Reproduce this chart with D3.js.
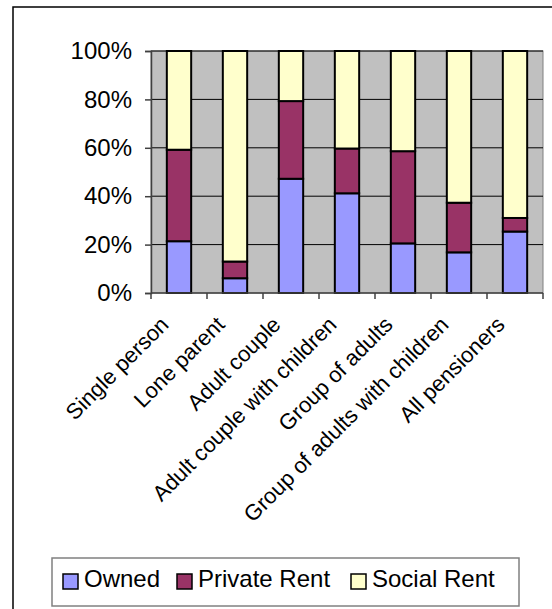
<!DOCTYPE html>
<html>
<head>
<meta charset="utf-8">
<script src="https://cdn.jsdelivr.net/npm/d3@7"></script>
<style>
  body { margin: 0; background: #fff; }
  text { font-family: "Liberation Sans", Arial, sans-serif; fill: #000; }
</style>
</head>
<body>
<svg id="svg" width="552" height="609"></svg>
<script>
const categories = ['Single person', 'Lone parent', 'Adult couple', 'Adult couple with children',
  'Group of adults', 'Group of adults with children', 'All pensioners'];
const owned = [21.4, 6.1, 47.2, 41.2, 20.5, 16.8, 25.4];
const privateRent = [37.8, 6.9, 32.1, 18.5, 38.1, 20.5, 5.6];
const socialRent = [40.8, 87.0, 20.7, 40.3, 41.4, 62.7, 69.0];
const seriesNames = ['Owned', 'Private Rent', 'Social Rent'];
const seriesColors = ['#9999FF', '#993366', '#FFFFCC'];
const yTicks = [0, 20, 40, 60, 80, 100];

const svg = d3.select('#svg');

// outer chart frame (runs off the right and bottom edges)
svg.append('rect')
  .attr('x', 13).attr('y', 7)
  .attr('width', 600).attr('height', 700)
  .attr('fill', 'none').attr('stroke', '#000').attr('stroke-width', 1.5);

const plotLeft = 151, plotRight = 543, plotTop = 51, plotBottom = 293;

const x = d3.scaleBand().domain(categories).range([plotLeft, plotRight]).paddingInner(0).paddingOuter(0);
const y = d3.scaleLinear().domain([0, 100]).range([plotBottom, plotTop]);
const barW = x.bandwidth() / 2.3;

// plot area
svg.append('rect')
  .attr('x', plotLeft).attr('y', plotTop)
  .attr('width', plotRight - plotLeft).attr('height', plotBottom - plotTop)
  .attr('fill', '#C0C0C0').attr('stroke', '#808080').attr('stroke-width', 1);

// gridlines
svg.append('g')
  .selectAll('line')
  .data(yTicks.filter(d => d > 0))
  .enter()
  .append('line')
  .attr('x1', plotLeft).attr('x2', plotRight)
  .attr('y1', d => y(d)).attr('y2', d => y(d))
  .attr('stroke', '#000').attr('stroke-width', 1);

// stacked bars
const table = categories.map((c, i) => ({
  cat: c, Owned: owned[i], 'Private Rent': privateRent[i], 'Social Rent': socialRent[i]
}));
const stacked = d3.stack().keys(seriesNames)(table);

svg.append('g')
  .selectAll('g')
  .data(stacked)
  .enter()
  .append('g')
  .attr('fill', (d, i) => seriesColors[i])
  .selectAll('rect')
  .data(d => d)
  .enter()
  .append('rect')
  .attr('x', d => x(d.data.cat) + (x.bandwidth() - barW) / 2)
  .attr('y', d => y(d[1]))
  .attr('width', barW)
  .attr('height', d => y(d[0]) - y(d[1]))
  .attr('stroke', '#000')
  .attr('stroke-width', 2);

// y axis
const yAxis = svg.append('g')
  .attr('transform', `translate(${plotLeft},0)`)
  .call(d3.axisLeft(y).tickValues(yTicks).tickFormat(d => d + '%').tickSize(6).tickPadding(13));
yAxis.select('.domain').attr('stroke', '#404040').attr('stroke-width', 1.5);
yAxis.selectAll('.tick line').attr('stroke', '#404040').attr('stroke-width', 1.5);
yAxis.selectAll('text')
  .style('font-family', '"Liberation Sans", Arial, sans-serif')
  .style('font-size', '24px').attr('fill', '#000');

// x axis with ticks at category boundaries
const bounds = categories.map(c => x(c)).concat([plotRight]);
svg.append('line')
  .attr('x1', plotLeft).attr('x2', plotRight)
  .attr('y1', plotBottom).attr('y2', plotBottom)
  .attr('stroke', '#404040').attr('stroke-width', 1.5);
svg.append('g')
  .selectAll('line')
  .data(bounds)
  .enter()
  .append('line')
  .attr('x1', d => d).attr('x2', d => d)
  .attr('y1', plotBottom).attr('y2', plotBottom + 6)
  .attr('stroke', '#404040').attr('stroke-width', 1.5);

svg.append('g')
  .selectAll('text')
  .data(categories)
  .enter()
  .append('text')
  .attr('transform', d => `translate(${x(d) + x.bandwidth() / 2 - 9},${plotBottom + 33}) rotate(-45)`)
  .attr('text-anchor', 'end')
  .style('font-size', '22px')
  .text(d => d);

// legend
const legend = svg.append('g');
legend.append('rect')
  .attr('x', 52).attr('y', 558)
  .attr('width', 467).attr('height', 48)
  .attr('fill', '#fff').attr('stroke', '#808080').attr('stroke-width', 1.5);

const legendX = [63, 177, 351];
const items = legend.selectAll('g.item')
  .data(seriesNames)
  .enter()
  .append('g')
  .attr('class', 'item')
  .attr('transform', (d, i) => `translate(${legendX[i]},574)`);
items.append('rect')
  .attr('width', 15).attr('height', 15)
  .attr('fill', (d, i) => seriesColors[i])
  .attr('stroke', '#000').attr('stroke-width', 1.5);
items.append('text')
  .attr('x', 21).attr('y', 13)
  .style('font-size', '24px')
  .text(d => d);
</script>
</body>
</html>
